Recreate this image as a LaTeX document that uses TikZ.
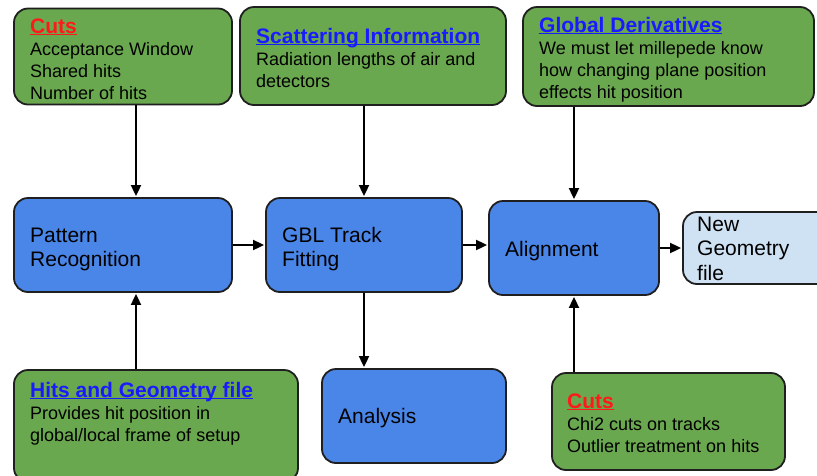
\documentclass[tikz,border=0pt]{standalone}
\usepackage{fontspec}
\setmainfont{Liberation Sans}
\usetikzlibrary{arrows.meta,calc}

\definecolor{boxgreen}{HTML}{6AA84F}
\definecolor{boxblue}{HTML}{4A86E8}
\definecolor{boxpale}{HTML}{CFE2F3}
\definecolor{edge}{HTML}{1F1F1F}
\definecolor{linkblue}{HTML}{1A1AFF}
\definecolor{cutred}{HTML}{FF1A1A}

% underline at a fixed depth, running through descenders
\newcommand{\ulbar}[1]{\leavevmode\setbox0\hbox{#1}\rlap{\rule[-2.4pt]{\wd0}{1.4pt}}\box0}
\newcommand{\headred}[1]{{\fontsize{21}{25}\selectfont\bfseries\color{cutred}\ulbar{#1}}}
\newcommand{\headblue}[1]{{\fontsize{21}{25}\selectfont\bfseries\color{linkblue}\ulbar{#1}}}
% left-aligned stack of lines whose baseline is that of its first line
\newcommand{\linestack}[1]{\vtop{\halign{##\hfil\cr#1\crcr}}}

\tikzset{
  panel/.style={draw=edge, line width=1.8pt, rounded corners=14pt, inner sep=0pt},
  greenbox/.style={panel, fill=boxgreen},
  bluebox/.style={panel, fill=boxblue},
  palebox/.style={panel, fill=boxpale},
  bodytext/.style={inner sep=0pt, anchor=base west, text=black,
                   font=\fontsize{18}{22}\selectfont},
  maintext/.style={inner sep=0pt, anchor=base west, text=black,
                   font=\fontsize{21}{24.5}\selectfont},
  flow/.style={draw=black, line width=1.8pt, shorten >=1pt,
               -{Triangle[length=11pt,width=10pt]}}
}

\begin{document}
\begin{tikzpicture}[x=1pt, y=-1pt]
  \useasboundingbox (0,0) rectangle (817,475);
  \fill[white] (0,0) rectangle (817,475);

  % upper information boxes
  \node[greenbox, minimum width=218pt, minimum height=96pt] (cutsTop) at (123,56.5) {};
  \node[greenbox, minimum width=266pt, minimum height=98pt] (scatter) at (373,56) {};
  \node[greenbox, minimum width=291pt, minimum height=99pt] (globder) at (668.5,56.5) {};

  % processing chain
  \node[bluebox, minimum width=218pt, minimum height=94pt] (pattern) at (123,245) {};
  \node[bluebox, minimum width=196pt, minimum height=94pt] (gbl) at (364,245) {};
  \node[bluebox, minimum width=170pt, minimum height=94pt] (align) at (574,248) {};
  \node[palebox, minimum width=154pt, minimum height=72pt] (newgeo) at (760,248) {};

  % lower boxes
  \node[greenbox, minimum width=284pt, minimum height=112pt] (hits) at (156,426) {};
  \node[bluebox, minimum width=184pt, minimum height=94pt] (analysis) at (414,416) {};
  \node[greenbox, minimum width=233pt, minimum height=97pt] (cutsLow) at (668.5,421.5) {};

  % texts
  \node[bodytext] (cutsTopTxt) at (30,33) {\linestack{\headred{Cuts}\cr Acceptance Window\cr Shared hits\cr Number of hits}};
  \node[bodytext] (scatterTxt) at (256,43) {\linestack{\headblue{Scattering Information}\cr Radiation lengths of air and\cr detectors}};
  \node[bodytext] (globderTxt) at (539,32) {\linestack{\headblue{Global Derivatives}\cr We must let millepede know\cr how changing plane position\cr effects hit position}};
  \node[maintext] (patternTxt) at (30,242) {\linestack{Pattern\cr Recognition}};
  \node[maintext] (gblTxt) at (282,242) {\linestack{GBL Track\cr Fitting}};
  \node[maintext] (alignTxt) at (505,256) {Alignment};
  \node[maintext] (newgeoTxt) at (697,231) {\linestack{New\cr Geometry\cr file}};
  \node[bodytext] (hitsTxt) at (30,397) {\linestack{\headblue{Hits and Geometry file}\cr Provides hit position in\cr global/local frame of setup}};
  \node[maintext] (analysisTxt) at (338,423) {Analysis};
  \node[bodytext] (cutsLowTxt) at (567,408) {\linestack{\headred{Cuts}\cr Chi2 cuts on tracks\cr Outlier treatment on hits}};

  % connectors
  \draw[flow] ([xshift=13pt]cutsTop.south) -- ([xshift=13pt]pattern.north);
  \draw[flow] ([xshift=-9pt]scatter.south) -- (gbl.north);
  \draw[flow] (globder.south -| align.north) -- (align.north);
  \draw[flow] (pattern.east) -- (gbl.west);
  \draw[flow] (gbl.east) -- (gbl.east -| align.west);
  \draw[flow] (align.east) -- (newgeo.west);
  \draw[flow] ([xshift=13pt]hits.north -| pattern.south) -- ([xshift=13pt]pattern.south);
  \draw[flow] (gbl.south) -- (analysis.north -| gbl.south);
  \draw[flow] (cutsLow.north -| align.south) -- (align.south);
\end{tikzpicture}
\end{document}
